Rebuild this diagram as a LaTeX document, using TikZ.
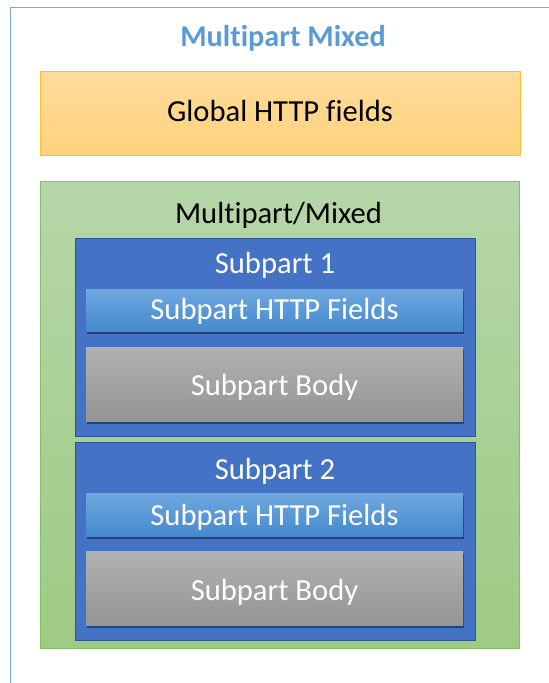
\documentclass[tikz,border=0pt]{standalone}
\usepackage{fontspec}
\setmainfont[Ligatures=NoCommon]{Carlito}
\usetikzlibrary{shadows}

\definecolor{framecol}{HTML}{7AAAE0}
\definecolor{titlecol}{HTML}{5B9BD5}
\definecolor{orangetop}{HTML}{FFDC9C}
\definecolor{orangebot}{HTML}{FFD17C}
\definecolor{orangeedge}{HTML}{FFC32A}
\definecolor{greentop}{HTML}{B6D6A8}
\definecolor{greenbot}{HTML}{9ECB84}
\definecolor{greenedge}{HTML}{86BE66}
\definecolor{subfill}{HTML}{4472C4}
\definecolor{subedge}{HTML}{2F5597}
\definecolor{fieldtop}{HTML}{6FA8DE}
\definecolor{fieldbot}{HTML}{4589CF}
\definecolor{bodytop}{HTML}{B1B1B1}
\definecolor{bodybot}{HTML}{949494}
\definecolor{shadowcol}{HTML}{1F3358}

\tikzset{
  panel/.style={rectangle, inner sep=0pt, line width=0.9pt},
  globalbox/.style={panel, draw=orangeedge, top color=orangetop, bottom color=orangebot},
  mixedbox/.style={panel, draw=greenedge, top color=greentop, bottom color=greenbot},
  subbox/.style={panel, draw=subedge, fill=subfill},
  fieldbar/.style={panel, top color=fieldtop, bottom color=fieldbot,
    drop shadow={shadow xshift=0.8pt, shadow yshift=-2.5pt, fill=shadowcol, opacity=0.75}},
  bodybar/.style={panel, top color=bodytop, bottom color=bodybot,
    drop shadow={shadow xshift=0.8pt, shadow yshift=-2.5pt, fill=shadowcol, opacity=0.75}},
  lbl/.style={anchor=base, inner sep=0pt, font=\fontsize{30.6}{33}\selectfont},
  darklbl/.style={lbl, text=black},
  whitelbl/.style={lbl, text=white},
}

\begin{document}
\begin{tikzpicture}[x=1pt, y=-1pt]
  \useasboundingbox (0,0) rectangle (549,683);

  % outer frame (only its top and left edges lie inside the page)
  \coordinate (frameBL) at (10,683);
  \coordinate (frameTL) at (10,7.5);
  \coordinate (frameTR) at (549,7.5);
  \draw[framecol, line width=1pt] (frameBL) -- (frameTL) -- (frameTR);

  \node[lbl, text=titlecol, font=\fontsize{30.2}{33}\selectfont\bfseries] (title) at (283,46.5) {Multipart Mixed};

  % global header block
  \node[globalbox, minimum width=480pt, minimum height=84pt] (global) at (280,113) {};
  \node[darklbl] (globaltxt) at (280,121.7) {Global HTTP fields};

  % multipart/mixed container
  \node[mixedbox, minimum width=479pt, minimum height=467pt] (mixed) at (280,414.5) {};
  \node[darklbl] (mixedtxt) at (278.5,223.2) {Multipart/Mixed};

  % subpart 1
  \node[subbox, minimum width=400pt, minimum height=198pt] (sub1) at (275,337) {};
  \node[whitelbl] (sub1txt) at (275,273.3) {Subpart 1};
  \node[fieldbar, minimum width=377pt, minimum height=42pt] (fields1) at (274.5,310) {};
  \node[whitelbl] (fields1txt) at (274.5,319.8) {Subpart HTTP Fields};
  \node[bodybar, minimum width=377pt, minimum height=74pt] (body1) at (274.5,384) {};
  \node[whitelbl] (body1txt) at (274.5,395.2) {Subpart Body};

  % subpart 2
  \node[subbox, minimum width=400pt, minimum height=198pt] (sub2) at (275,541.8) {};
  \node[whitelbl] (sub2txt) at (275,479) {Subpart 2};
  \node[fieldbar, minimum width=377pt, minimum height=43pt] (fields2) at (274.5,514.5) {};
  \node[whitelbl] (fields2txt) at (274.5,525.5) {Subpart HTTP Fields};
  \node[bodybar, minimum width=377pt, minimum height=74pt] (body2) at (274.5,588.7) {};
  \node[whitelbl] (body2txt) at (274.5,600) {Subpart Body};
\end{tikzpicture}
\end{document}
